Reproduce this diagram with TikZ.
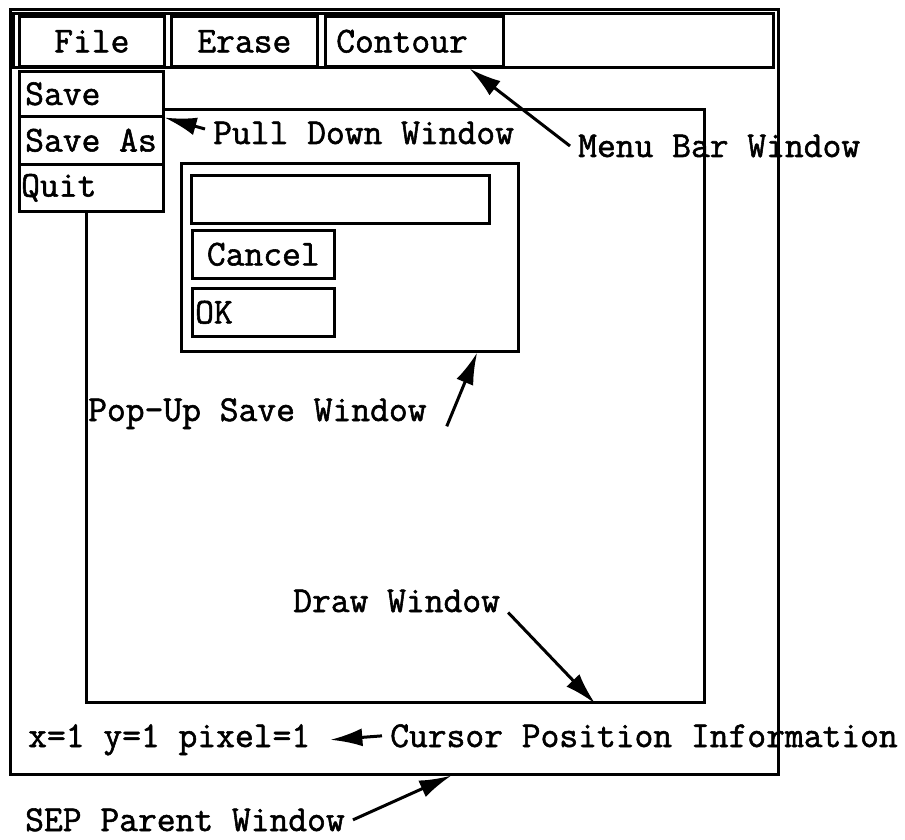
\documentclass[tikz,border=0pt]{standalone}
\usepackage{fontspec}
\setmainfont{Latin Modern Mono}[FakeBold=1.5]
\usetikzlibrary{positioning,calc,arrows.meta}

\begin{document}
\begin{tikzpicture}[x=1pt,y=-1pt]
		\tikzset{win/.style = {draw, line width=2.6pt, inner sep=0pt, anchor=north west, font=\fontsize{36.5pt}{40pt}\selectfont}}
		\tikzset{txt/.style = {inner sep=0pt, font=\fontsize{36.5pt}{40pt}\selectfont}}
		\tikzset{lbl/.style = {txt, inner xsep=8pt, anchor=base west}}
		\tikzset{edge/.style = {-{Latex[length=32pt,width=18pt]}, line width=3pt}}

		\useasboundingbox (0,0) rectangle (905,840);

		% windows
		\node[win, minimum width=768pt, minimum height=765pt] (parent)   at (  9,   8) {};
		\node[win, minimum width=760pt, minimum height= 54pt] (menubar)  at ( 12,  12) {};
		\node[win, minimum width=145pt, minimum height= 50pt] (file)     at ( 18,  15) {File};
		\node[win, minimum width=146pt, minimum height= 50pt] (erase)    at (170,  15) {Erase};
		\node[win, minimum width=178pt, minimum height= 50pt] (contour)  at (324,  15) {};
		\node[win, minimum width=618pt, minimum height=593pt] (drawwin)  at ( 85, 108) {};
		\node[win, fill=white, minimum width=144pt, minimum height=45pt] (save)   at ( 18,  70) {};
		\node[win, fill=white, minimum width=144pt, minimum height=48pt] (saveas) at ( 18, 115) {};
		\node[win, fill=white, minimum width=144pt, minimum height=47pt] (quit)   at ( 18, 163) {};
		\node[win, minimum width=337pt, minimum height=188pt] (popup)    at (180, 162) {};
		\node[win, minimum width=298pt, minimum height= 48pt] (filename) at (190, 174) {};
		\node[win, minimum width=142pt, minimum height= 48pt] (cancel)   at (191, 229) {Cancel};
		\node[win, minimum width=142pt, minimum height= 48pt] (ok)       at (191, 287) {};

		\node[txt, right=12pt of contour.west] (contourtext) {Contour};
		\node[txt, right=7pt of save.west]     (savetext)    {Save};
		\node[txt, right=7pt of saveas.west]   (saveastext)  {Save As};
		\node[txt, right=3pt of quit.west]     (quittext)    {Quit};
		\node[txt, right=4pt of ok.west]       (oktext)      {OK};

		% labels
		\node[lbl] (pulldownlabel) at (205, 144) {Pull Down Window};
		\node[lbl] (menubarlabel)  at (570, 157) {Menu Bar Window};
		\node[lbl] (popuplabel)    at ( 80, 421) {Pop-Up Save Window};
		\node[lbl] (drawlabel)     at (285, 612) {Draw Window};
		\node[lbl] (cursortext)    at ( 20, 747) {x=1 y=1 pixel=1};
		\node[lbl] (cursorlabel)   at (382, 747) {Cursor Position Information};
		\node[lbl] (parentlabel)   at ( 17, 831) {SEP Parent Window};

		\draw[edge] ([yshift=4pt]pulldownlabel.west) -- (save.south east);
		\draw[edge] (menubarlabel.west) -- ($(menubar.south west)!0.6!(menubar.south east)$);
		\draw[edge] ([xshift=12pt,yshift=3pt]popuplabel.south east) -- ($(popup.south west)!0.875!(popup.south east)$);
		\draw[edge] (drawlabel.south east) -- ($(drawwin.south west)!0.822!(drawwin.south east)$);
		\draw[edge] (cursorlabel.west) -- ([xshift=12pt]cursortext.east);
		\draw[edge] (parentlabel.east) -- ($(parent.south west)!0.574!(parent.south east)$);
\end{tikzpicture}
\end{document}
